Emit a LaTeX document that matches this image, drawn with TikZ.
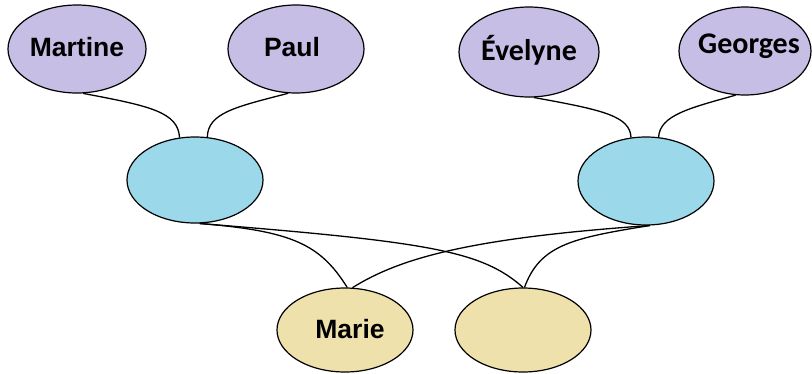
\documentclass[tikz,border=0pt]{standalone}
\usepackage{fontspec}
\setmainfont{Liberation Sans}
\newfontfamily\calib{Carlito}
\usetikzlibrary{shapes.geometric}
\definecolor{lav}{RGB}{199,190,229}
\definecolor{sky}{RGB}{154,216,234}
\definecolor{tan}{RGB}{238,225,172}
\tikzset{
  pers/.style={ellipse, draw=black, line width=1.2pt, inner sep=0pt},
  par/.style={pers, fill=lav},
  cpl/.style={pers, fill=sky},
  kid/.style={pers, fill=tan},
  lnk/.style={draw=black, line width=1.3pt}
}
\begin{document}
\begin{tikzpicture}[x=1pt,y=-1pt]
\useasboundingbox (0,0) rectangle (812,373);
\node[par, minimum width=138pt, minimum height=88pt] (M) at (77,49) {};
\node[font=\bfseries\fontsize{26.5}{30}\selectfont] (Mt) at (77,47) {Martine};
\node[par, minimum width=136pt, minimum height=88pt] (P) at (296,49) {};
\node[font=\bfseries\fontsize{26.5}{30}\selectfont] (Pt) at (292,47) {Paul};
\node[par, minimum width=140pt, minimum height=90pt] (E) at (529,52) {};
\node[font=\calib\bfseries\fontsize{30}{34}\selectfont] (Et) at (529,50) {Évelyne};
\node[par, minimum width=132pt, minimum height=88pt] (G) at (745,51) {};
\node[font=\calib\bfseries\fontsize{30}{34}\selectfont] (Gt) at (749,46) {Georges};
\node[cpl, minimum width=136pt, minimum height=86pt] (BL) at (195,180) {};
\node[cpl, minimum width=136pt, minimum height=88pt] (BR) at (646,181) {};
\node[kid, minimum width=136pt, minimum height=84pt] (Ma) at (345,330) {};
\node[font=\bfseries\fontsize{26.5}{30}\selectfont] (Mat) at (350,329) {Marie};
\node[kid, minimum width=136pt, minimum height=84pt] (T) at (523,330) {};

\draw[lnk] (M.-82) .. controls (150,106) and (178,112) .. (BL.110);
\draw[lnk] (P.-100) .. controls (235,107) and (208,113) .. (BL.74);
\draw[lnk] (E.-84) .. controls (603,110) and (630,116) .. (BR.109);
\draw[lnk] (G.-102) .. controls (690,108) and (660,115) .. (BR.74);

\draw[lnk] (BL.-84) .. controls (292,231) and (320,244) .. (Ma.87);
\draw[lnk] (BL.-84) .. controls (430,242) and (482,251) .. (T.90);
\draw[lnk] (BR.-85) .. controls (470,238) and (400,258) .. (Ma.80);
\draw[lnk] (BR.-85) .. controls (572,238) and (540,245) .. (T.88);
\end{tikzpicture}
\end{document}
